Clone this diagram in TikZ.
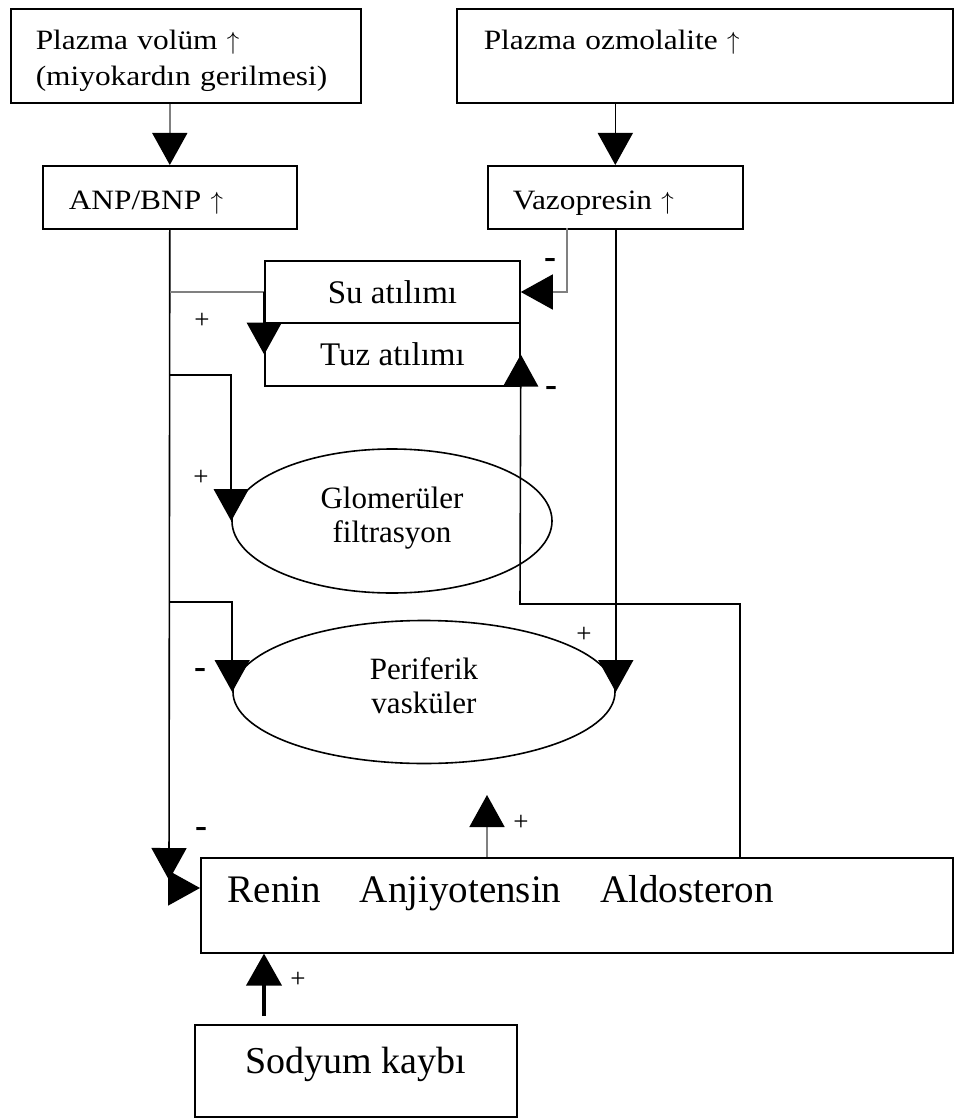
\documentclass[tikz,border=0pt]{standalone}
\usepackage{fontspec}
\setmainfont{Liberation Serif}
\newfontfamily\widefont[FakeStretch=1.12]{Liberation Serif}
\usetikzlibrary{arrows.meta,shapes.geometric}

\begin{document}
\begin{tikzpicture}[x=1pt, y=-1pt,
      box/.style={rectangle, draw, line width=1.6pt, anchor=north west, align=left, inner ysep=0pt},
      topbox/.style={box, font=\widefont\fontsize{28}{36}\selectfont},
      midbox/.style={rectangle, draw, line width=1.6pt, minimum width=255pt, inner sep=0pt, font=\fontsize{33}{36}\selectfont},
      oval/.style={ellipse, draw, line width=1.6pt, inner sep=0pt, align=center, text height=55pt, text depth=12pt, font=\fontsize{31}{34}\selectfont},
      arrow/.style={-{Triangle[width=35pt,length=32pt,color=black]}, line width=1.6pt},
      plus/.style={inner sep=0pt, font=\fontsize{27}{27}\selectfont},
      minus/.style={inner sep=0pt, font=\bfseries\fontsize{36}{36}\selectfont}
  ]
  \useasboundingbox (0,0) rectangle (955,1118);

  % Nodes
  \node[topbox, text width=300pt, inner xsep=25pt, minimum height=94pt, text height=21pt, text depth=33pt] (volum) at (10,8) {Plazma volüm $\uparrow$\\(miyokardın gerilmesi)};
  \node[topbox, text width=442pt, inner xsep=27pt, minimum height=94pt, text height=21pt, text depth=33pt] (ozmo) at (456,8) {Plazma ozmolalite $\uparrow$};
  \node[topbox, text width=202pt, inner xsep=26pt, minimum height=63pt, text height=25pt, text depth=0pt] (anp) at (42,165) {ANP/BNP $\uparrow$};
  \node[topbox, text width=205pt, inner xsep=25pt, minimum height=63pt, text height=25pt, text depth=0pt] (vazo) at (487,165) {Vazopresin $\uparrow$};
  \node[midbox, minimum height=62pt] (su) at (392.5,292) {Su atılımı};
  \node[midbox, minimum height=63pt] (tuz) at (392.5,354.5) {Tuz atılımı};
  \node[oval, minimum width=320pt, minimum height=144pt] (glom) at (392,521) {Glomerüler\\filtrasyon};
  \node[oval, minimum width=382pt, minimum height=143pt] (peri) at (424,692) {Periferik\\vasküler};
  \node[box, text width=698pt, inner xsep=27pt, minimum height=95pt, text height=26pt, text depth=31pt, font=\fontsize{39}{44}\selectfont] (renin) at (200,857) {Renin\quad Anjiyotensin\quad Aldosteron};
  \node[rectangle, draw, line width=1.6pt, minimum width=322pt, minimum height=92pt, text height=25pt, text depth=21pt, font=\fontsize{38}{40}\selectfont] (sod) at (356,1071) {Sodyum kaybı};

  % Signs
  \node[minus] (m1) at (550,263) {-};
  \node[plus] (p1) at (202,321) {+};
  \node[minus] (m2) at (551,391) {-};
  \node[plus] (p2) at (201,478) {+};
  \node[minus] (m3) at (200,673) {-};
  \node[plus] (p3) at (584,635) {+};
  \node[minus] (m4) at (201,832) {-};
  \node[plus] (p4) at (521,823) {+};
  \node[plus] (p5) at (298,980) {+};

  % Corners
  \coordinate (b2) at (169,375);
  \coordinate (b3) at (169,602);
  \coordinate (anpend) at (169,880);
  \coordinate (rin) at (200,888);
  \coordinate (v1) at (567,228);
  \coordinate (al) at (740,857);
  \coordinate (ak) at (520,604);
  \coordinate (up) at (487,795);
  \coordinate (s0) at (264,1016);

  % Arrows
  \draw[arrow, gray] (volum.south -| anp.north) -- (anp.north);
  \draw[arrow] (ozmo.south -| vazo.north) -- (vazo.north);
  \draw[arrow] (anp.south) -- (anpend);
  \draw[arrow] ([xshift=-32pt]rin) -- (rin);
  \draw[line width=1.6pt, gray] (anp.south |- su.west) -- (su.west);
  \draw[arrow] (su.west) -- (tuz.west);
  \draw[arrow] (b2) -| (glom.west);
  \draw[arrow] (b3) -| (peri.west);
  \draw[arrow, gray] (v1) |- (su.east);
  \draw[arrow] (vazo.south -| peri.east) -- (peri.east);
  \draw[arrow] (al) |- (ak) -- (tuz.east);
  \draw[arrow, gray] (renin.north -| up) -- (up);
  \draw[arrow, line width=4pt] (s0) -- (renin.south -| s0);

\end{tikzpicture}
\end{document}
